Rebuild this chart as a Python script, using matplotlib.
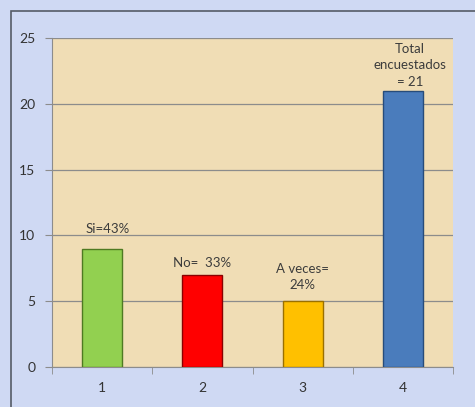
import matplotlib
matplotlib.use("Agg")
import matplotlib.pyplot as plt
from matplotlib.patches import Rectangle

categories = ["1", "2", "3", "4"]
values = [9, 7, 5, 21]
labels = ["Si=43%", "No=  33%", "A veces=\n24%", "Total\nencuestados\n= 21"]
colors = ["#92D050", "#FF0000", "#FFC000", "#4A7CBC"]
edges = ["#4E7A22", "#8A0000", "#9A7000", "#274C7A"]
yticks = [0, 5, 10, 15, 20, 25]

# label offsets (points) relative to bar top
label_off = [(4, 10), (0, 4), (0, 7), (5, 2)]

plt.rcParams['font.family'] = ['Lato', 'DejaVu Sans']

W, H = 475, 407
fig = plt.figure(figsize=(W / 100, H / 100), dpi=100)
fig.patch.set_facecolor("#CFD9F3")

# outer frame
fig.add_artist(Rectangle((11 / W, -0.05), 1.2, (H - 11) / H + 0.05, transform=fig.transFigure,
                         fill=False, edgecolor="#555b66", linewidth=1.2))

left, right, top, bottom = 52, 453, 38, 367
ax = fig.add_axes([left / W, 1 - bottom / H, (right - left) / W, (bottom - top) / H])
ax.set_facecolor("#F0DDB5")

x = list(range(len(categories)))
ax.bar(x, values, width=0.4, color=colors, edgecolor=edges, linewidth=1.0, zorder=3)

for xi, v, lab, off in zip(x, values, labels, label_off):
    ax.annotate(lab, (xi, v), xytext=off, textcoords="offset points",
                ha="center", va="bottom", fontsize=9.5, color="#3c3c3c",
                linespacing=1.45, zorder=4)

ax.set_xlim(-0.5, len(categories) - 0.5)
ax.set_ylim(0, 25)
ax.set_yticks(yticks)
ax.set_yticklabels([str(t) for t in yticks])
ax.set_xticks(x)
ax.set_xticklabels(categories)
ax.set_xticks([i - 0.5 for i in range(len(categories) + 1)], minor=True)

ax.yaxis.grid(True, color="#8c8c8c", linewidth=0.9, zorder=1)
ax.set_axisbelow(True)

for s in ["top", "right"]:
    ax.spines[s].set_visible(False)
ax.spines["left"].set_color("#8c8c8c")
ax.spines["bottom"].set_color("#8c8c8c")

ax.tick_params(axis="y", length=5, color="#8c8c8c", labelsize=10, labelcolor="#333333", pad=7)
ax.tick_params(axis="x", which="major", length=0, labelsize=10, labelcolor="#333333", pad=11)
ax.tick_params(axis="x", which="minor", length=5, color="#8c8c8c")

fig.savefig("out.png", dpi=100, facecolor=fig.get_facecolor())
